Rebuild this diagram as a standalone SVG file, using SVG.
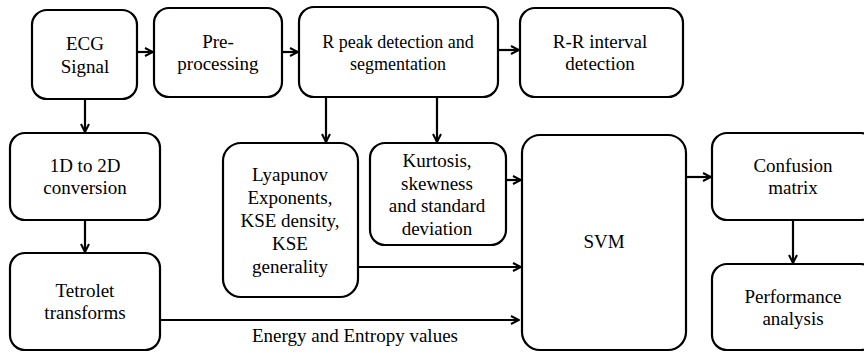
<svg xmlns="http://www.w3.org/2000/svg" width="864" height="353" viewBox="0 0 864 353">
<style>
.box{fill:#fff;stroke:#000;stroke-width:2.2}
.t{font-family:'Liberation Serif','DejaVu Serif','Times New Roman',Times,serif;font-size:19px;fill:#000;text-anchor:middle}
.c{fill:none;stroke:#000;stroke-width:2.2}
</style>
<defs>
<marker id="ah" viewBox="0 0 10 10" refX="9" refY="5" markerWidth="10" markerHeight="10" markerUnits="userSpaceOnUse" orient="auto">
<path d="M1,1 L9,5 L1,9" fill="none" stroke="#000" stroke-width="2"/>
</marker>
</defs>
<rect width="864" height="353" fill="#fff"/>
<g id="connectors">
<line class="c" x1="137" y1="52" x2="153" y2="52" marker-end="url(#ah)"/>
<line class="c" x1="282" y1="52" x2="298" y2="52" marker-end="url(#ah)"/>
<line class="c" x1="498" y1="50" x2="519" y2="50" marker-end="url(#ah)"/>
<line class="c" x1="85" y1="99" x2="85" y2="132" marker-end="url(#ah)"/>
<line class="c" x1="85" y1="220" x2="85" y2="252" marker-end="url(#ah)"/>
<line class="c" x1="326" y1="97" x2="326" y2="142" marker-end="url(#ah)"/>
<line class="c" x1="437" y1="97" x2="437" y2="142" marker-end="url(#ah)"/>
<line class="c" x1="506" y1="180" x2="521" y2="180" marker-end="url(#ah)"/>
<line class="c" x1="358" y1="267" x2="521" y2="267" marker-end="url(#ah)"/>
<line class="c" x1="160" y1="320" x2="519" y2="320" marker-end="url(#ah)"/>
<line class="c" x1="686" y1="177" x2="711" y2="177" marker-end="url(#ah)"/>
<line class="c" x1="793" y1="220" x2="793" y2="263" marker-end="url(#ah)"/>
<text class="t" x="355" y="342" font-family="Liberation Serif, serif">Energy and Entropy values</text>
</g>
<g id="ecg"><rect class="box" x="32" y="10" width="105" height="89" rx="15"/><text class="t" x="85" y="50">ECG</text><text class="t" x="85" y="73">Signal</text></g>
<g id="pre"><rect class="box" x="154" y="8" width="128" height="89" rx="15"/><text class="t" x="218" y="48">Pre-</text><text class="t" x="218" y="70">processing</text></g>
<g id="rpeak"><rect class="box" x="299" y="7" width="199" height="90" rx="15"/><text class="t" x="398" y="48" style="font-size:18px">R peak detection and</text><text class="t" x="398" y="70" style="font-size:18px">segmentation</text></g>
<g id="rr"><rect class="box" x="520" y="8" width="163" height="89" rx="15"/><text class="t" x="600" y="48">R-R interval</text><text class="t" x="600" y="70">detection</text></g>
<g id="conv"><rect class="box" x="10" y="133" width="150" height="87" rx="15"/><text class="t" x="85" y="172">1D to 2D</text><text class="t" x="85" y="194">conversion</text></g>
<g id="tetrolet"><rect class="box" x="10" y="253" width="150" height="97" rx="15"/><text class="t" x="85" y="297">Tetrolet</text><text class="t" x="85" y="319">transforms</text></g>
<g id="lyap"><rect class="box" x="223" y="143" width="135" height="154" rx="18"/><text class="t" x="290" y="181">Lyapunov</text><text class="t" x="290" y="204">Exponents,</text><text class="t" x="290" y="227">KSE density,</text><text class="t" x="290" y="250">KSE</text><text class="t" x="290" y="273">generality</text></g>
<g id="kurt"><rect class="box" x="370" y="143" width="136" height="102" rx="15"/><text class="t" x="437" y="167">Kurtosis,</text><text class="t" x="437" y="190">skewness</text><text class="t" x="437" y="212">and standard</text><text class="t" x="437" y="235">deviation</text></g>
<g id="svm"><rect class="box" x="522" y="135" width="164" height="215" rx="18"/><text class="t" x="604" y="248">SVM</text></g>
<g id="confusion"><rect class="box" x="712" y="133" width="164" height="87" rx="15"/><text class="t" x="793" y="172">Confusion</text><text class="t" x="793" y="194">matrix</text></g>
<g id="perf"><rect class="box" x="712" y="264" width="164" height="86" rx="15"/><text class="t" x="793" y="303">Performance</text><text class="t" x="793" y="325">analysis</text></g>
</svg>
